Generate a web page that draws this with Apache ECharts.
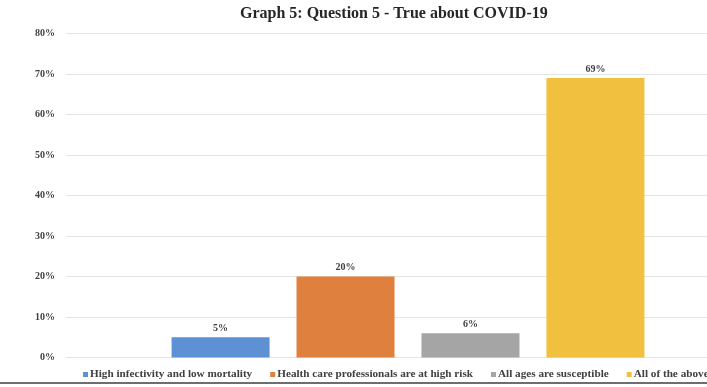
<!DOCTYPE html>
<html>
<head>
<meta charset="utf-8">
<script src="https://cdn.jsdelivr.net/npm/echarts@6/dist/echarts.min.js"></script>
<style>
  html, body { margin: 0; padding: 0; background: #fff; }
  #chart { width: 707px; height: 387px; }
</style>
</head>
<body>
<div id="chart"></div>
<script>
// Answers to question 5, share of respondents (%)
const answers = [
  'High infectivity and low mortality',
  'Health care professionals are at high risk',
  'All ages are susceptible',
  'All of the above'
];
const shares = [5, 20, 6, 69];
const colors = ['#5E91D3', '#E0803E', '#A5A5A5', '#F2C03F'];
const yTicks = { min: 0, max: 80, interval: 10 };

const serif = '"Liberation Serif", "Times New Roman", serif';

const chart = echarts.init(document.getElementById('chart'));

const series = answers.map((name, i) => ({
  name: name,
  type: 'bar',
  data: [shares[i]],
  barWidth: 98,
  barGap: '27.5%',
  itemStyle: { color: colors[i] },
  label: {
    show: true,
    position: 'top',
    distance: 4,
    formatter: '{c}%',
    fontFamily: serif,
    fontWeight: 'bold',
    fontSize: 10,
    color: '#404040'
  }
}));

chart.setOption({
  animation: false,
  backgroundColor: '#fff',
  title: {
    text: 'Graph 5: Question 5 - True about COVID-19',
    left: 240,
    top: 6,
    padding: 0,
    textStyle: {
      fontFamily: serif,
      fontWeight: 'bold',
      fontSize: 16,
      color: '#262626'
    }
  },
  legend: {
    data: answers,
    left: 83,
    top: 369,
    width: 1000,
    padding: 0,
    icon: 'rect',
    itemWidth: 5,
    itemHeight: 5,
    itemGap: 18,
    textStyle: {
      fontFamily: serif,
      fontWeight: 'bold',
      fontSize: 11.2,
      color: '#404040',
      padding: [0, 0, 0, -3]
    }
  },
  grid: {
    left: 66,
    top: 33.5,
    width: 684,
    bottom: 29.5,
    outerBoundsMode: 'none',
    containLabel: false
  },
  xAxis: {
    type: 'category',
    data: [''],
    axisLine: { show: false },
    axisTick: { show: false },
    axisLabel: { show: false }
  },
  yAxis: {
    type: 'value',
    min: yTicks.min,
    max: yTicks.max,
    interval: yTicks.interval,
    axisLine: { show: false },
    axisTick: { show: false },
    splitLine: { lineStyle: { color: '#E4E4E4', width: 1 } },
    axisLabel: {
      formatter: '{value}%',
      margin: 11,
      fontFamily: serif,
      fontWeight: 'bold',
      fontSize: 10,
      color: '#404040'
    }
  },
  series: series,
  graphic: [{
    type: 'line',
    shape: { x1: 0, y1: 383, x2: 707, y2: 383 },
    style: { stroke: '#6E6E6E', lineWidth: 2 }
  }]
});
</script>
</body>
</html>
